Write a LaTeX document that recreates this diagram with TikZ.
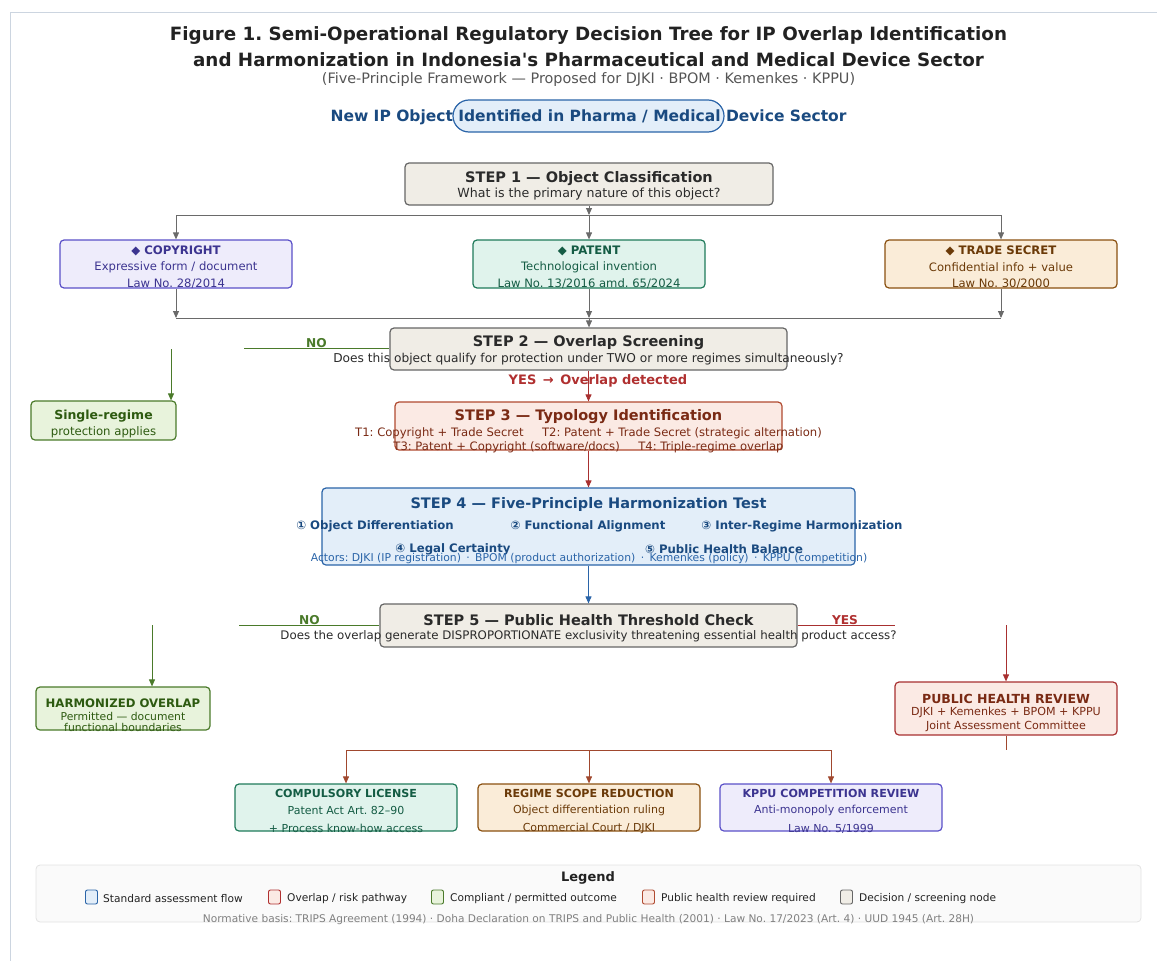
\documentclass[tikz,border=0pt]{standalone}
\usepackage{fontspec}
\setmainfont{DejaVu Sans}
\usetikzlibrary{arrows.meta}
\frenchspacing
\definecolor{ink}{HTML}{222222}
\definecolor{subink}{HTML}{555555}
\definecolor{frame}{HTML}{CCD5E0}
\definecolor{bluefill}{HTML}{E3EEF9}
\definecolor{blueline}{HTML}{2A64A8}
\definecolor{bluetext}{HTML}{1A4A80}
\definecolor{stepfill}{HTML}{F0EDE6}
\definecolor{stepline}{HTML}{666666}
\definecolor{steptext}{HTML}{2A2A2A}
\definecolor{grayarrow}{HTML}{6A6A6A}
\definecolor{greenfill}{HTML}{E8F3DC}
\definecolor{greenline}{HTML}{4A7A2A}
\definecolor{greentext}{HTML}{2D5A10}
\definecolor{redtext}{HTML}{B03030}
\definecolor{redarrow}{HTML}{A83030}
\definecolor{redfill}{HTML}{FBEAE4}
\definecolor{redline}{HTML}{B04A30}
\definecolor{redink}{HTML}{7A2A14}
\definecolor{brownarrow}{HTML}{A0482E}
\definecolor{purplefill}{HTML}{EEECFB}
\definecolor{purpleline}{HTML}{5A50C8}
\definecolor{purpletext}{HTML}{3C3490}
\definecolor{tealfill}{HTML}{E0F3EC}
\definecolor{tealline}{HTML}{1F7A5A}
\definecolor{tealtext}{HTML}{145C44}
\definecolor{orangefill}{HTML}{FAECD8}
\definecolor{orangeline}{HTML}{8A5010}
\definecolor{orangetext}{HTML}{6B3A08}
\definecolor{legfill}{HTML}{FAFAFA}
\definecolor{legline}{HTML}{E2E2E2}
\newcommand{\fsz}[1]{\fontsize{#1}{#1}\selectfont}
\begin{document}
\begin{tikzpicture}[x=1pt, y=-1pt, >={Triangle[length=7pt,width=6pt]},
    box/.style={draw, rounded corners=4pt, line width=1.2pt, inner sep=0pt},
    stepbox/.style={box, fill=stepfill, draw=stepline},
    bluebox/.style={box, fill=bluefill, draw=blueline},
    greenbox/.style={box, fill=greenfill, draw=greenline},
    redbox/.style={box, fill=redfill, draw=redline},
    purplebox/.style={box, fill=purplefill, draw=purpleline},
    tealbox/.style={box, fill=tealfill, draw=tealline},
    orangebox/.style={box, fill=orangefill, draw=orangeline},
    txt/.style={inner sep=0pt, anchor=center},
    steptitle/.style={txt, font=\fsz{14.5}\bfseries},
    cattitle/.style={txt, font=\fsz{11.7}\bfseries},
    catsub/.style={txt, font=\fsz{11.6}},
    bottitle/.style={txt, font=\fsz{11.1}\bfseries},
    botsub/.style={txt, font=\fsz{11}},
    principle/.style={txt, font=\fsz{11.7}\bfseries, text=bluetext},
    flow/.style={line width=0.9pt},
    legsq/.style={draw, rounded corners=2pt, line width=0.9pt, minimum width=12pt, minimum height=14pt, inner sep=0pt},
    legtxt/.style={inner sep=0pt, anchor=west, font=\fsz{10.6}, text=ink}]
\useasboundingbox (0,0) rectangle (1157,961);
\draw[frame, line width=1pt] (10,961) -- (10,12) -- (1157,12);

\node[txt, font=\fsz{18.3}\bfseries, text=ink] (title) at (588.5,36) {Figure 1. Semi-Operational Regulatory Decision Tree for IP Overlap Identification};
\node[txt, font=\fsz{18.3}\bfseries, text=ink] (title2) at (588.5,60) {and Harmonization in Indonesia\textquotesingle s Pharmaceutical and Medical Device Sector};
\node[txt, font=\fsz{14.4}, text=subink] (subtitle) at (588.5,80) {(Five-Principle Framework — Proposed for DJKI · BPOM · Kemenkes · KPPU)};

\node[bluebox, rounded corners=16pt, minimum width=271pt, minimum height=32pt] (top) at (588.5,116) {};
\node[txt, font=\fsz{15.5}\bfseries, text=bluetext] (toplabel) at (588.5,117.5) {New IP Object Identified in Pharma / Medical Device Sector};

\node[stepbox, minimum width=368pt, minimum height=42pt] (s1) at (589,184) {};
\node[steptitle, text=steptext] (s1t) at (589,178.5) {STEP 1 — Object Classification};
\node[txt, font=\fsz{12.6}, text=steptext] (s1s) at (589,194.5) {What is the primary nature of this object?};

\node[purplebox, minimum width=232pt, minimum height=48pt] (copy) at (176,264) {};
\node[cattitle, text=purpletext] (copyt) at (176,251) {◆ COPYRIGHT};
\node[catsub, text=purpletext] (copys) at (176,267.5) {Expressive form / document};
\node[catsub, text=purpletext] (copyl) at (176,284) {Law No. 28/2014};

\node[tealbox, minimum width=232pt, minimum height=48pt] (pat) at (589,264) {};
\node[cattitle, text=tealtext] (patt) at (589,251) {◆ PATENT};
\node[catsub, text=tealtext] (pats) at (589,267.5) {Technological invention};
\node[catsub, text=tealtext] (patl) at (589,284) {Law No. 13/2016 amd. 65/2024};

\node[orangebox, minimum width=232pt, minimum height=48pt] (trade) at (1001,264) {};
\node[cattitle, text=orangetext] (tradet) at (1001,251) {◆ TRADE SECRET};
\node[catsub, text=orangetext] (trades) at (1001,267.5) {Confidential info + value};
\node[catsub, text=orangetext] (tradel) at (1001,284) {Law No. 30/2000};

\coordinate (j1) at (589,215);
\draw[->, flow, grayarrow] (s1.south) -- (j1);
\draw[flow, grayarrow] (copy.north |- j1) -- (trade.north |- j1);
\draw[->, flow, grayarrow] (copy.north |- j1) -- (copy.north);
\draw[->, flow, grayarrow] (j1) -- (pat.north);
\draw[->, flow, grayarrow] (trade.north |- j1) -- (trade.north);

\node[stepbox, minimum width=397pt, minimum height=42pt] (s2) at (588.5,349) {};
\node[steptitle, text=steptext] (s2t) at (588.5,343) {STEP 2 — Overlap Screening};
\node[txt, font=\fsz{12.2}, text=steptext] (s2s) at (588.5,359.5) {Does this object qualify for protection under TWO or more regimes simultaneously?};

\coordinate (j2) at (589,318);
\draw[->, flow, grayarrow] (copy.south) -- (copy.south |- j2);
\draw[->, flow, grayarrow] (pat.south) -- (j2);
\draw[->, flow, grayarrow] (trade.south) -- (trade.south |- j2);
\draw[flow, grayarrow] (copy.south |- j2) -- (trade.south |- j2);
\draw[->, flow, grayarrow] (j2) -- (s2.north -| j2);

\node[greenbox, minimum width=145pt, minimum height=39pt] (single) at (103.5,420.5) {};
\node[txt, font=\fsz{12.5}\bfseries, text=greentext] (singlet) at (103.5,416.5) {Single-regime};
\node[txt, font=\fsz{11.7}, text=greentext] (singles) at (103.5,432.5) {protection applies};

\coordinate (no1) at (244,348);
\coordinate (no1v) at (171,349);
\draw[flow, greenline] (no1) -- (no1 -| s2.west);
\node[txt, font=\fsz{12.2}\bfseries, text=greenline] (no1t) at (316.5,343.5) {NO};
\draw[->, flow, greenline] (no1v) -- (no1v |- single.north);

\node[redbox, minimum width=387pt, minimum height=48pt] (s3) at (588.5,426) {};
\node[steptitle, text=redink] (s3t) at (588.5,416.5) {STEP 3 — Typology Identification};
\node[txt, font=\fsz{11.6}, text=redink] (s3a) at (588.5,433.5) {T1: Copyright + Trade Secret\hspace{1.6em}T2: Patent + Trade Secret (strategic alternation)};
\node[txt, font=\fsz{11.6}, text=redink] (s3b) at (588.5,447.5) {T3: Patent + Copyright (software/docs)\hspace{1.6em}T4: Triple-regime overlap};

\draw[->, flow, redarrow] (s2.south) -- (s3.north);
\node[txt, font=\fsz{13}\bfseries, text=redtext] (yes1) at (598,380.5) {YES\enspace→\enspace Overlap detected};

\node[bluebox, minimum width=533pt, minimum height=77pt] (s4) at (588.5,526.5) {};
\node[steptitle, text=bluetext] (s4t) at (588.5,504.5) {STEP 4 — Five-Principle Harmonization Test};
\node[principle] (p1) at (375,526.5) {① Object Differentiation};
\node[principle] (p2) at (588,526.5) {② Functional Alignment};
\node[principle] (p3) at (802,526.5) {③ Inter-Regime Harmonization};
\node[principle] (p4) at (453,549.5) {④ Legal Certainty};
\node[principle] (p5) at (724,549.5) {⑤ Public Health Balance};
\node[txt, font=\fsz{10.8}, text=blueline] (actors) at (589,558.5) {Actors: DJKI (IP registration)\enspace·\enspace BPOM (product authorization)\enspace·\enspace Kemenkes (policy)\enspace·\enspace KPPU (competition)};

\draw[->, flow, redarrow] (s3.south) -- (s4.north);

\node[stepbox, minimum width=417pt, minimum height=43pt] (s5) at (588.5,625.5) {};
\node[steptitle, text=steptext] (s5t) at (588.5,620.5) {STEP 5 — Public Health Threshold Check};
\node[txt, font=\fsz{11.8}, text=steptext] (s5s) at (588.5,636.5) {Does the overlap generate DISPROPORTIONATE exclusivity threatening essential health product access?};

\draw[->, flow, blueline] (s4.south) -- (s5.north);

\node[greenbox, minimum width=174pt, minimum height=43pt] (harm) at (123,708.5) {};
\node[txt, font=\fsz{11.7}\bfseries, text=greentext] (harmt) at (123,703.5) {HARMONIZED OVERLAP};
\node[txt, font=\fsz{10.8}, text=greentext] (harms) at (123,716.5) {Permitted — document};
\node[txt, font=\fsz{10.8}, text=greentext] (harml) at (123,727.5) {functional boundaries};

\coordinate (no2) at (239,625);
\coordinate (no2v) at (152,625);
\draw[flow, greenline] (no2) -- (no2 -| s5.west);
\node[txt, font=\fsz{12.2}\bfseries, text=greenline] (no2t) at (309.5,620.5) {NO};
\draw[->, flow, greenline] (no2v) -- (no2v |- harm.north);

\node[redbox, draw=redarrow, minimum width=222pt, minimum height=53pt] (phr) at (1006,708.5) {};
\node[txt, font=\fsz{12.5}\bfseries, text=redink] (phrt) at (1006,698.5) {PUBLIC HEALTH REVIEW};
\node[txt, font=\fsz{11.1}, text=redink] (phra) at (1006,712.5) {DJKI + Kemenkes + BPOM + KPPU};
\node[txt, font=\fsz{11.1}, text=redink] (phrb) at (1006,726.5) {Joint Assessment Committee};

\coordinate (yes2) at (895,625);
\coordinate (yes2v) at (1006,625);
\draw[flow, redarrow] (s5.east |- yes2) -- (yes2);
\node[txt, font=\fsz{12.2}\bfseries, text=redtext] (yes2t) at (845,620.5) {YES};
\draw[->, flow, redarrow] (yes2v) -- (phr.north);

\node[tealbox, minimum width=222pt, minimum height=47pt] (cl) at (346,807.5) {};
\node[bottitle, text=tealtext] (clt) at (346,793.5) {COMPULSORY LICENSE};
\node[botsub, text=tealtext] (cla) at (346,810.5) {Patent Act Art. 82–90};
\node[botsub, text=tealtext] (clb) at (346,828.5) {+ Process know-how access};

\node[orangebox, minimum width=222pt, minimum height=47pt] (rsr) at (589,807.5) {};
\node[bottitle, text=orangetext] (rsrt) at (589,793.5) {REGIME SCOPE REDUCTION};
\node[botsub, text=orangetext] (rsra) at (589,810.5) {Object differentiation ruling};
\node[botsub, text=orangetext] (rsrb) at (589,828.5) {Commercial Court / DJKI};

\node[purplebox, minimum width=222pt, minimum height=47pt] (kppu) at (831,807.5) {};
\node[bottitle, text=purpletext] (kpput) at (831,793.5) {KPPU COMPETITION REVIEW};
\node[botsub, text=purpletext] (kppua) at (831,810.5) {Anti-monopoly enforcement};
\node[botsub, text=purpletext] (kppub) at (831,828.5) {Law No. 5/1999};

\coordinate (j3) at (589,750);
\draw[flow, brownarrow] (phr.south) -- (phr.south |- j3);
\draw[flow, brownarrow] (cl.north |- j3) -- (kppu.north |- j3);
\draw[->, flow, brownarrow] (cl.north |- j3) -- (cl.north);
\draw[->, flow, brownarrow] (j3) -- (rsr.north);
\draw[->, flow, brownarrow] (kppu.north |- j3) -- (kppu.north);

\node[draw=legline, fill=legfill, rounded corners=4pt, line width=0.8pt, minimum width=1105pt, minimum height=57pt, inner sep=0pt] (legend) at (588.5,893.5) {};
\node[txt, font=\fsz{13}\bfseries, text=ink] (legendt) at (588,877.5) {Legend};
\node[legsq, fill=bluefill, draw=blueline] (lg1) at (91.5,897) {};
\node[legtxt] (lg1t) at (103,898.5) {Standard assessment flow};
\node[legsq, fill=redfill, draw=redtext] (lg2) at (274.5,897) {};
\node[legtxt] (lg2t) at (287,898.5) {Overlap / risk pathway};
\node[legsq, fill=greenfill, draw=greenline] (lg3) at (437.5,897) {};
\node[legtxt] (lg3t) at (450,898.5) {Compliant / permitted outcome};
\node[legsq, fill=redfill, draw=redline] (lg4) at (648.5,897) {};
\node[legtxt] (lg4t) at (661,898.5) {Public health review required};
\node[legsq, fill=stepfill, draw=stepline] (lg5) at (846.5,897) {};
\node[legtxt] (lg5t) at (859,898.5) {Decision / screening node};
\node[txt, font=\fsz{10.6}, text=gray] (basis) at (588.5,919.5) {Normative basis: TRIPS Agreement (1994) · Doha Declaration on TRIPS and Public Health (2001) · Law No. 17/2023 (Art. 4) · UUD 1945 (Art. 28H)};
\end{tikzpicture}
\end{document}
